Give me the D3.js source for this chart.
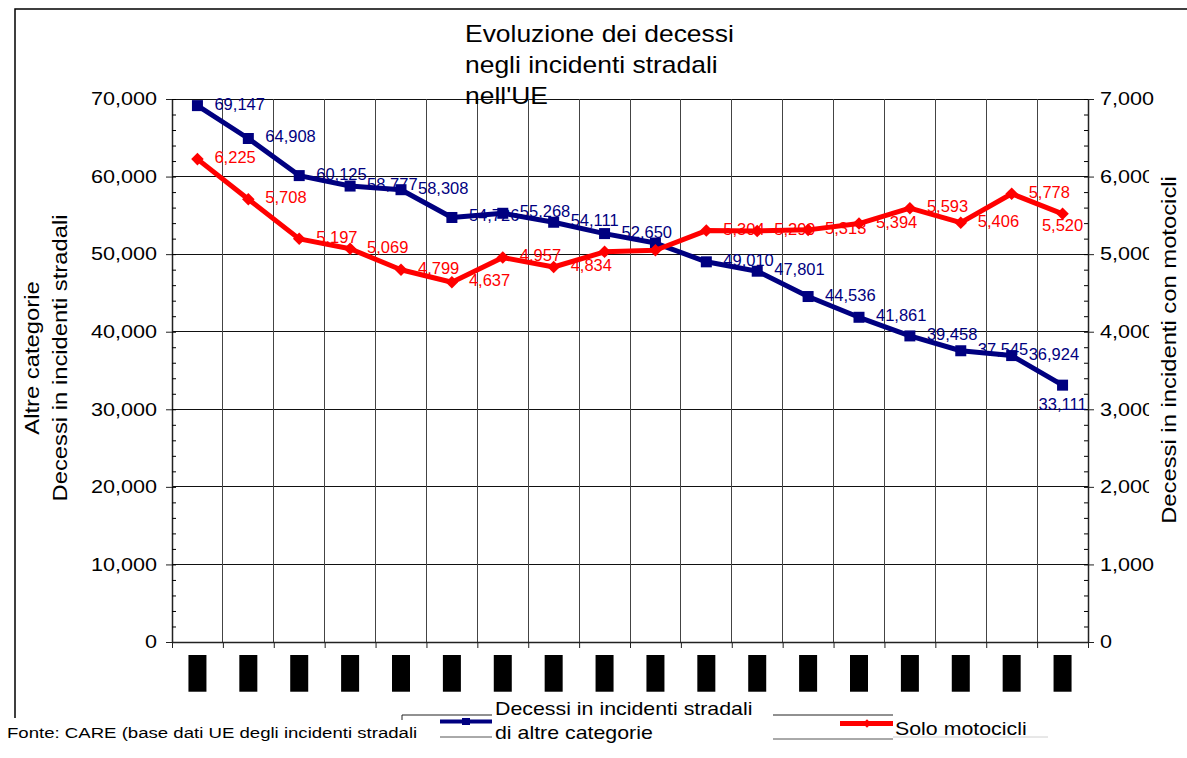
<!DOCTYPE html>
<html>
<head>
<meta charset="utf-8">
<script src="https://cdn.jsdelivr.net/npm/d3@7"></script>
<style>
  body { margin: 0; background: #fff; }
  svg { display: block; font-family: "Liberation Sans", Arial, sans-serif; }
</style>
</head>
<body>
<div id="chart"></div>
<script>
const width = 1187, height = 758;
const plot = {left: 172, right: 1088, top: 99, bottom: 642};

// data
const years = ["1991", "1992", "1993", "1994", "1995", "1996", "1997", "1998", "1999",
    "2000", "2001", "2002", "2003", "2004", "2005", "2006", "2007", "2008"];
const altreCategorie = [69147, 64908, 60125, 58777, 58308, 54726, 55268, 54111, 52650,
    51430, 49010, 47801, 44536, 41861, 39458, 37545, 36924, 33111];
const soloMotocicli = [6225, 5708, 5197, 5069, 4799, 4637, 4957, 4834, 5030,
    5050, 5304, 5299, 5313, 5394, 5593, 5406, 5778, 5520];
const hiddenLabelsAltre = [9];
const hiddenLabelsMoto = [8, 9];
const leftTicks = [0, 10000, 20000, 30000, 40000, 50000, 60000, 70000];
const rightTicks = [0, 1000, 2000, 3000, 4000, 5000, 6000, 7000];

const titleLines = ["Evoluzione dei decessi", "negli incidenti stradali", "nell'UE"];
const leftTitleLines = ["Altre categorie", "Decessi in incidenti stradali"];
const rightTitle = "Decessi in incidenti con motocicli";
const legendAltre = ["Decessi in incidenti stradali", "di altre categorie"];
const legendMoto = "Solo motocicli";
const sourceNote = "Fonte: CARE (base dati UE degli incidenti stradali";

const navy = "#000080", red = "#ff0000";
const fmt = d3.format(",");

const svg = d3.select("#chart").append("svg")
    .attr("width", width)
    .attr("height", height);

const x = d3.scaleBand().domain(years).range([plot.left, plot.right]);
const xEdge = d3.scaleLinear().domain([0, years.length]).range([plot.left, plot.right]);
const yLeft = d3.scaleLinear().domain([0, 70000]).range([plot.bottom, plot.top]);
const yRight = d3.scaleLinear().domain([0, 7000]).range([plot.bottom, plot.top]);
const cx = (i) => x(years[i]) + x.bandwidth() / 2;

// text is a bit wider than plain Arial in the original, so scale along the reading direction
function addText(parent, px, py, str, o) {
    o = Object.assign({size: 16, fill: "#000", anchor: "start", rotate: 0, stretch: 1}, o);
    return parent.append("text")
        .attr("transform", `translate(${px},${py}) rotate(${o.rotate}) scale(${o.stretch},1)`)
        .attr("font-size", o.size)
        .attr("fill", o.fill)
        .attr("text-anchor", o.anchor)
        .text(str);
}

function stretchTicks(g, k) {
    g.selectAll(".tick text").each(function () {
        const t = d3.select(this);
        const tx = +t.attr("x");
        t.attr("x", 0).attr("transform", `translate(${tx},0) scale(${k},1)`);
    });
}

function drawBorder() {
    svg.append("path")
        .attr("d", `M15,718 V9 H${width}`)
        .attr("fill", "none")
        .attr("stroke", "#000")
        .attr("stroke-width", 1.5);
}

function drawGrid() {
    const g = svg.append("g").attr("shape-rendering", "crispEdges");
    g.selectAll(".h").data(leftTicks.slice(1)).join("line")
        .attr("x1", plot.left).attr("x2", plot.right)
        .attr("y1", (d) => yLeft(d)).attr("y2", (d) => yLeft(d))
        .attr("stroke", "#111");
    g.selectAll(".v").data(d3.range(1, years.length)).join("line")
        .attr("x1", (d) => xEdge(d)).attr("x2", (d) => xEdge(d))
        .attr("y1", plot.top).attr("y2", plot.bottom)
        .attr("stroke", "#444");
}

function drawAxes() {
    const left = svg.append("g")
        .attr("transform", `translate(${plot.left},0)`)
        .call(d3.axisLeft(yLeft).tickValues(leftTicks).tickFormat(fmt)
            .tickSize(6).tickSizeOuter(0).tickPadding(9));
    svg.append("g")
        .attr("transform", `translate(${plot.left},0)`)
        .call(d3.axisRight(yLeft).tickValues(d3.range(0, 70001, 2000)).tickFormat("")
            .tickSize(4).tickSizeOuter(0))
        .select(".domain").remove();

    const right = svg.append("g")
        .attr("transform", `translate(${plot.right},0)`)
        .call(d3.axisRight(yRight).tickValues(rightTicks).tickFormat(fmt)
            .tickSize(6).tickSizeOuter(0).tickPadding(6));
    svg.append("g")
        .attr("transform", `translate(${plot.right},0)`)
        .call(d3.axisLeft(yRight).tickValues(d3.range(0, 7001, 200)).tickFormat("")
            .tickSize(4).tickSizeOuter(0))
        .select(".domain").remove();

    const bottom = svg.append("g")
        .attr("transform", `translate(0,${plot.bottom})`)
        .call(d3.axisBottom(xEdge).tickValues(d3.range(0, years.length + 1)).tickFormat("")
            .tickSize(6).tickSizeOuter(0));

    [left, right, bottom].forEach((g) => {
        g.attr("font-size", 18).attr("font-family", null);
        g.selectAll("line").attr("stroke", "#222");
        g.select(".domain").attr("stroke", "#222").attr("stroke-width", 1.5);
        g.selectAll("text").attr("fill", "#000");
    });
    stretchTicks(left, 1.2);
    stretchTicks(right, 1.2);
}

// the year labels come out as solid black blocks in the original
function drawYearLabels() {
    const g = svg.append("g");
    years.forEach((yr, i) => {
        const lab = g.append("g")
            .attr("transform", `translate(${cx(i)},655) rotate(-90)`);
        const t = lab.append("text")
            .attr("font-size", 16.5)
            .attr("text-anchor", "end")
            .attr("dominant-baseline", "central")
            .attr("fill", "#000")
            .text(yr);
        const b = t.node().getBBox();
        lab.insert("rect", "text")
            .attr("x", b.x).attr("y", b.y)
            .attr("width", b.width).attr("height", b.height)
            .attr("fill", "#000");
    });
}

function drawTitles() {
    const g = svg.append("g");
    titleLines.forEach((line, i) => {
        addText(g, 465, 42 + i * 31, line, {size: 23, stretch: 1.15});
    });
    leftTitleLines.forEach((line, i) => {
        addText(g, 39 + i * 28, 358, line, {size: 19.5, anchor: "middle", rotate: -90, stretch: 1.22});
    });
    const rt = addText(g, 1176, 350, rightTitle, {size: 19.5, anchor: "middle", rotate: -90, stretch: 1.22});
    const b = rt.node().getBoundingClientRect();
    // the axis title sits on a white box that cuts the ends of the tick labels
    g.insert("rect", "text")
        .attr("x", b.left - 9).attr("y", b.top - 8)
        .attr("width", width - b.left + 9).attr("height", b.height + 16)
        .attr("fill", "#fff");
    addText(g, 7, 738, sourceNote, {size: 15.5, stretch: 1.2});
}

function drawLabels(values, yScale, color, hidden, belowOffset) {
    const g = svg.append("g");
    values.forEach((v, i) => {
        if (hidden.includes(i)) return;
        const last = i === values.length - 1;
        addText(g, last ? cx(i) : cx(i) + 17, last ? yScale(v) + belowOffset : yScale(v) - 2, fmt(v),
            {size: 16.5, fill: color, anchor: last ? "middle" : "start"})
            .attr("dominant-baseline", "central");
    });
}

function drawSeries(values, yScale, color, marker) {
    const line = d3.line()
        .x((d, i) => cx(i))
        .y((d) => yScale(d));
    const g = svg.append("g");
    g.append("path")
        .datum(values)
        .attr("d", line)
        .attr("fill", "none")
        .attr("stroke", color)
        .attr("stroke-width", 5)
        .attr("stroke-linejoin", "round");
    if (marker === "square") {
        g.selectAll("rect").data(values).join("rect")
            .attr("x", (d, i) => cx(i) - 5.5)
            .attr("y", (d) => yScale(d) - 5.5)
            .attr("width", 11).attr("height", 11)
            .attr("fill", color);
    } else {
        g.selectAll(".m").data(values).join("path")
            .attr("transform", (d, i) => `translate(${cx(i)},${yScale(d)})`)
            .attr("d", d3.symbol(d3.symbolDiamond2, 100))
            .attr("fill", color);
    }
}

function drawLegend() {
    const g = svg.append("g");
    const seg = (x1, y1, x2, y2, stroke, w) => g.append("line")
        .attr("x1", x1).attr("y1", y1).attr("x2", x2).attr("y2", y2)
        .attr("stroke", stroke).attr("stroke-width", w);

    seg(402, 715, 492, 715, "#222", 1);
    seg(402, 715, 402, 720, "#222", 1);
    seg(440, 721.5, 492, 721.5, navy, 4);
    g.append("rect").attr("x", 462).attr("y", 718).attr("width", 8).attr("height", 7).attr("fill", navy);
    seg(440, 737, 492, 737, "#555", 1);
    legendAltre.forEach((line, i) => addText(g, 495, 715 + i * 24, line, {size: 17.5, stretch: 1.22}));

    seg(773, 715, 893, 715, "#222", 1);
    seg(840, 723.5, 893, 723.5, red, 5);
    g.append("path")
        .attr("transform", "translate(867,723.5)")
        .attr("d", d3.symbol(d3.symbolDiamond2, 45))
        .attr("fill", red);
    seg(773, 739, 893, 739, "#555", 1);
    seg(893, 737, 1048, 737, "#d0d0d0", 1);
    addText(g, 895, 735, legendMoto, {size: 17.5, stretch: 1.22});
}

drawBorder();
drawGrid();
drawAxes();
drawYearLabels();
drawLabels(altreCategorie, yLeft, navy, hiddenLabelsAltre, 19);
drawLabels(soloMotocicli, yRight, red, hiddenLabelsMoto, 11);
drawSeries(altreCategorie, yLeft, navy, "square");
drawSeries(soloMotocicli, yRight, red, "diamond");
drawTitles();
drawLegend();
</script>
</body>
</html>
